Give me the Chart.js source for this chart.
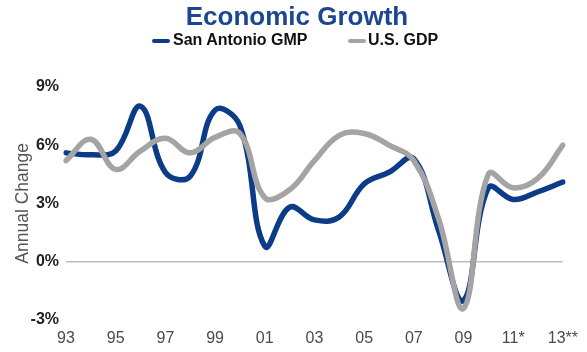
<!DOCTYPE html>
<html>
<head>
<meta charset="utf-8">
<script src="https://cdn.jsdelivr.net/npm/chart.js@4.4.1/dist/chart.umd.min.js"></script>
<style>
  html, body { margin: 0; padding: 0; background: #fff; }
  #wrap { position: relative; width: 587px; height: 352px; }
  #c { position: absolute; left: 0; top: 0; }
  .lg-sw { position: absolute; height: 4px; width: 18px; border-radius: 2px; top: 39px; }
  .lg-tx { position: absolute; top: 31px; line-height: 20px; font: bold 16px "Liberation Sans", Arial, sans-serif; color: #111; white-space: nowrap; }
</style>
</head>
<body>
<div id="wrap">
  <canvas id="c" width="587" height="352"></canvas>
  <div id="legend"></div>
</div>
<script>
// ---- data ----
const years = ['93','94','95','96','97','98','99','00','01','02','03','04','05','06','07','08','09','10','11*','12','13**'];
const sanAntonioGMP = [5.6, 5.5, 5.7, 8.0, 4.6, 4.4, 7.8, 7.0, 0.8, 2.8, 2.15, 2.3, 4.0, 4.6, 5.3, 1.6, -2.0, 3.8, 3.2, 3.6, 4.1];
const usGDP        = [5.2, 6.3, 4.75, 5.7, 6.35, 5.6, 6.4, 6.6, 3.3, 3.7, 5.2, 6.5, 6.6, 6.0, 5.2, 2.2, -2.4, 4.5, 3.8, 4.3, 6.0];
const seriesNames = ['San Antonio GMP', 'U.S. GDP'];
const yTicks = [-3, 0, 3, 6, 9];
const titleText = 'Economic Growth';
const yTitle = 'Annual Change';

const BLUE = '#0c3b88';
const GRAY = '#a4a4a4';
const FONT = '"Liberation Sans", Arial, sans-serif';

// HTML legend
const legendItems = [
  { name: seriesNames[0], color: BLUE, sw: 152, tx: 173 },
  { name: seriesNames[1], color: GRAY, sw: 348, tx: 368 }
];
const lg = document.getElementById('legend');
legendItems.forEach(it => {
  const s = document.createElement('div');
  s.className = 'lg-sw'; s.style.left = it.sw + 'px'; s.style.background = it.color;
  const t = document.createElement('div');
  t.className = 'lg-tx'; t.style.left = it.tx + 'px'; t.textContent = it.name;
  lg.appendChild(s); lg.appendChild(t);
});

// shift the title box so it is centred where the reference has it
const titleShift = {
  id: 'titleShift',
  afterLayout(chart) {
    const t = chart.titleBlock;
    if (t) { t.left += 13.5; t.right += 13.5; }
  }
};

new Chart(document.getElementById('c'), {
  type: 'line',
  plugins: [titleShift],
  data: {
    labels: years,
    datasets: [
      { label: seriesNames[0], data: sanAntonioGMP, borderColor: BLUE, backgroundColor: BLUE,
        borderWidth: 5.5, pointRadius: 0, tension: 0.4, fill: false, order: 1,
        borderCapStyle: 'round', borderJoinStyle: 'round' },
      { label: seriesNames[1], data: usGDP, borderColor: GRAY, backgroundColor: GRAY,
        borderWidth: 5.5, pointRadius: 0, tension: 0.4, fill: false, order: 0,
        borderCapStyle: 'round', borderJoinStyle: 'round' }
    ]
  },
  options: {
    responsive: false,
    animation: false,
    devicePixelRatio: 1,
    layout: { padding: { left: 0, right: 20, top: 0, bottom: 0 } },
    plugins: {
      legend: { display: false },
      tooltip: { enabled: false },
      title: {
        display: true, text: titleText, color: '#1b4791',
        font: { family: FONT, size: 26, weight: 'bold' },
        padding: { top: 2, bottom: 53.6 }
      }
    },
    scales: {
      x: {
        grid: { display: false, drawTicks: false },
        border: { display: false },
        ticks: {
          autoSkip: false, maxRotation: 0, minRotation: 0, padding: 9,
          color: '#4a4a4a', font: { family: FONT, size: 16 },
          callback: (v, i) => (i % 2 === 0 ? years[i] : '')
        },
        afterFit: s => { s.height = 32; }
      },
      y: {
        min: yTicks[0], max: yTicks[yTicks.length - 1],
        afterBuildTicks: s => { s.ticks = yTicks.map(v => ({ value: v })); },
        grid: {
          drawTicks: false,
          color: ctx => (ctx.tick && ctx.tick.value === 0 ? '#bdbdbd' : 'rgba(0,0,0,0)'),
          lineWidth: 1.5
        },
        border: { display: false },
        ticks: {
          padding: 7, color: '#222', font: { family: FONT, size: 16, weight: 'bold' },
          callback: v => v + '%'
        },
        title: {
          display: true, text: yTitle, color: '#555',
          font: { family: FONT, size: 17.5 }, padding: { top: 13, bottom: 0 }
        },
        afterFit: s => { s.width = 66; }
      }
    }
  }
});
</script>
</body>
</html>
